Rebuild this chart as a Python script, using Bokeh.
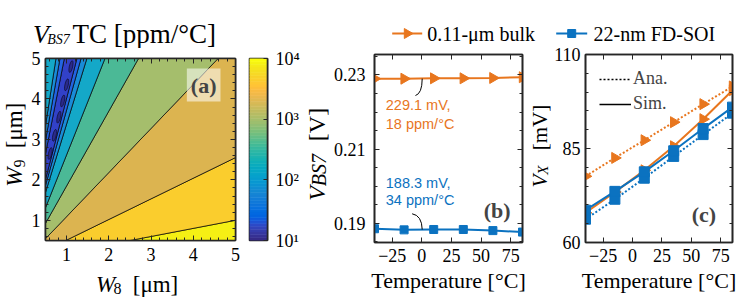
import numpy as np
from bokeh.plotting import figure
from bokeh.models import (Range1d, LinearAxis, FixedTicker, Label, Legend, LegendItem,
                          PrintfTickFormatter)
from bokeh.layouts import row, column
from bokeh.embed import file_html
from bokeh.resources import INLINE
from bokeh.core.properties import value

# ---------------- data ----------------
temps = [-40, -15, 10, 35, 60, 85]
vbs7_bulk = [0.2290, 0.2290, 0.2291, 0.2291, 0.2292, 0.2294]
vbs7_soi = [0.1885, 0.1882, 0.1883, 0.1883, 0.1880, 0.1876]
vx_bulk_ana = [77.6, 82.5, 87.2, 92.0, 96.8, 101.5]
vx_bulk_sim = [67.9, 73.4, 79.2, 85.6, 92.8, 100.5]
vx_soi_ana = [66.2, 71.5, 77.1, 82.9, 88.7, 94.4]
vx_soi_sim = [68.6, 73.6, 78.8, 84.4, 90.3, 96.0]

# panel (a): TC contours are wedges of constant W9/W8 ratio
contour_ratios = [0.2, 0.51, 1.09, 1.85, 2.62, 3.38, 3.73, 4.02, 5.29, 5.94, 6.69]
band_colors = ["#f5f014", "#facd2d", "#dcb450", "#a5be6c", "#4bb996", "#14a8c8",
               "#198cd7", "#2364e1", "#3241c8", "#2364e1", "#198cd7", "#14a8c8"]
blob_ratio = 4.35
blob_w9 = [4.8, 4.35, 3.95, 3.55, 3.1, 2.65]

cbar_ticks = [10, 100, 1000, 10000]
cbar_labels = ["10\u00b9", "10\u00b2", "10\u00b3", "10\u2074"]
w_ticks = [1, 2, 3, 4, 5]
temp_ticks = [-25, 0, 25, 50, 75]
vbs_ticks = [0.19, 0.21, 0.23]
vx_ticks = [60, 85, 110]
series_names = ["0.11-\u03bcm bulk", "22-nm FD-SOI"]

# ---------------- style ----------------
SERIF = "Liberation Serif"
SANS = "Liberation Sans"
ORANGE = "#e8761e"
BLUE = "#0b72c0"
AX = "#262626"
A90 = np.pi / 2
RIGHT = -np.pi / 2

PARULA = [
 (0.2081,0.1663,0.5292),(0.2116,0.1898,0.5777),(0.2123,0.2138,0.6270),(0.2081,0.2386,0.6771),
 (0.1959,0.2645,0.7279),(0.1707,0.2919,0.7792),(0.1253,0.3242,0.8303),(0.0591,0.3598,0.8683),
 (0.0117,0.3875,0.8820),(0.0060,0.4086,0.8828),(0.0165,0.4266,0.8786),(0.0329,0.4430,0.8720),
 (0.0498,0.4586,0.8641),(0.0629,0.4737,0.8554),(0.0723,0.4887,0.8467),(0.0779,0.5040,0.8384),
 (0.0793,0.5200,0.8312),(0.0749,0.5375,0.8263),(0.0641,0.5570,0.8240),(0.0488,0.5772,0.8228),
 (0.0343,0.5966,0.8199),(0.0265,0.6137,0.8135),(0.0239,0.6287,0.8038),(0.0231,0.6418,0.7913),
 (0.0228,0.6535,0.7768),(0.0267,0.6642,0.7607),(0.0384,0.6743,0.7436),(0.0590,0.6838,0.7254),
 (0.0843,0.6928,0.7062),(0.1133,0.7015,0.6859),(0.1453,0.7098,0.6646),(0.1801,0.7177,0.6424),
 (0.2178,0.7250,0.6193),(0.2586,0.7317,0.5954),(0.3022,0.7376,0.5712),(0.3482,0.7424,0.5473),
 (0.3953,0.7459,0.5244),(0.4420,0.7481,0.5033),(0.4871,0.7491,0.4840),(0.5300,0.7491,0.4661),
 (0.5709,0.7485,0.4494),(0.6099,0.7473,0.4337),(0.6473,0.7456,0.4188),(0.6834,0.7435,0.4044),
 (0.7184,0.7411,0.3905),(0.7525,0.7384,0.3768),(0.7858,0.7356,0.3633),(0.8185,0.7327,0.3498),
 (0.8507,0.7299,0.3360),(0.8824,0.7274,0.3217),(0.9139,0.7258,0.3063),(0.9450,0.7261,0.2886),
 (0.9739,0.7314,0.2666),(0.9938,0.7455,0.2403),(0.9990,0.7653,0.2164),(0.9955,0.7861,0.1967),
 (0.9880,0.8066,0.1794),(0.9789,0.8271,0.1633),(0.9697,0.8481,0.1475),(0.9626,0.8705,0.1309),
 (0.9589,0.8949,0.1132),(0.9598,0.9218,0.0948),(0.9661,0.9514,0.0755),(0.9763,0.9831,0.0538)]
parula = ["#%02x%02x%02x" % tuple(int(round(c * 255)) for c in rgb) for rgb in PARULA]


def no_align(f):
    try:
        f.frame_align = False
    except Exception:
        pass
    return f


def base_fig(w, h, xr, yr, bl, br, bt, bb, **kw):
    f = figure(width=w, height=h, x_range=Range1d(*xr), y_range=Range1d(*yr),
               output_backend="svg", toolbar_location=None,
               min_border_left=bl, min_border_right=br, min_border_top=bt, min_border_bottom=bb, **kw)
    f.grid.visible = False
    f.outline_line_color = AX
    f.outline_line_width = 1.6
    f.background_fill_color = "white"
    f.border_fill_color = "white"
    return no_align(f)


def blank(w, h):
    s = figure(width=w, height=h, x_range=Range1d(0, w), y_range=Range1d(0, h),
               output_backend="svg", toolbar_location=None, x_axis_location=None,
               y_axis_location=None, min_border=0)
    s.grid.visible = False
    s.outline_line_color = None
    s.background_fill_color = "white"
    s.border_fill_color = "white"
    return no_align(s)


def put(s, text, x, y, size, style="normal", angle=0.0, align="center"):
    s.text(x=[x], y=[y], text=[text], angle=angle, text_font=value(SERIF),
           text_font_size=f"{size}px", text_font_style=style, text_align=align,
           text_baseline="middle", text_color="black")


def style_axis(ax, ticker, show_labels=True, standoff=5):
    ax.ticker = ticker
    ax.axis_line_color = AX
    ax.axis_line_width = 1.6
    ax.major_tick_line_color = AX
    ax.minor_tick_line_color = AX
    ax.major_tick_in = 5
    ax.major_tick_out = 0
    ax.minor_tick_in = 3
    ax.minor_tick_out = 0
    ax.major_label_text_font = SERIF
    if show_labels:
        ax.major_label_text_color = "black"
        ax.major_label_text_font_size = "18px"
        ax.major_label_standoff = standoff
    else:
        ax.major_label_text_color = None
        ax.major_label_text_font_size = "1px"
        ax.major_label_standoff = 0


def mirror(f, xticker, yticker):
    top = LinearAxis()
    style_axis(top, xticker, show_labels=False)
    f.add_layout(top, "above")
    rt = LinearAxis()
    style_axis(rt, yticker, show_labels=False)
    f.add_layout(rt, "right")


def temp_label(ax):
    ax.axis_label = "Temperature [\u00b0C]"
    ax.axis_label_text_font = SERIF
    ax.axis_label_text_font_size = "22px"
    ax.axis_label_text_font_style = "normal"
    ax.axis_label_text_color = "black"
    ax.axis_label_standoff = 3


def clip_half(poly, a, b):
    out = []
    n = len(poly)
    for i in range(n):
        p, q = poly[i], poly[(i + 1) % n]
        fp = a * p[0] + b * p[1]
        fq = a * q[0] + b * q[1]
        if fp >= 0:
            out.append(p)
        if (fp >= 0) != (fq >= 0):
            t = fp / (fp - fq)
            out.append((p[0] + t * (q[0] - p[0]), p[1] + t * (q[1] - p[1])))
    return out


# ---------------- panel (a) ----------------
fa = base_fig(212, 220, (0.5, 5), (0.5, 5), 16, 5, 10, 28)
box = [(0.5, 0.5), (5.0, 0.5), (5.0, 5.0), (0.5, 5.0)]
edges = [None] + contour_ratios + [None]
xs, ys = [], []
for i in range(len(edges) - 1):
    poly = box
    lo, hi = edges[i], edges[i + 1]
    if lo is not None:
        poly = clip_half(poly, -lo, 1.0)
    if hi is not None:
        poly = clip_half(poly, hi, -1.0)
    xs.append([p[0] for p in poly])
    ys.append([p[1] for p in poly])
fa.patches(xs, ys, fill_color=band_colors, line_color="black", line_width=0.7)
fa.ellipse(x=[w / blob_ratio for w in blob_w9], y=blob_w9, width=0.08, height=0.3, angle=-0.22,
           fill_color="#2b2a8a", line_color="black", line_width=0.5)

wt = FixedTicker(ticks=w_ticks, minor_ticks=[round(0.6 + 0.2 * k, 2) for k in range(23)])
style_axis(fa.below[0], wt, standoff=7)
style_axis(fa.left[0], wt, standoff=5)
mirror(fa, wt, wt)
fa.add_layout(Label(x=4.246, y=4.343, text="(a)", text_font=SERIF, text_font_size="22px",
                    text_font_style="bold", text_align="center", text_baseline="middle",
                    background_fill_color="white", background_fill_alpha=0.55, padding=4))

# colour bar: its own log-scaled axis
fcb = base_fig(62, 299, (0, 1), (10, 1e4), 9, 33, 58, 59, y_axis_type="log",
               y_axis_location="right", x_axis_location=None)
cb_edges = [10 ** (1 + 3 * k / len(parula)) for k in range(len(parula) + 1)]
fcb.quad(left=0, right=1, bottom=cb_edges[:-1], top=cb_edges[1:], fill_color=parula,
         line_color=parula, line_width=0.6)
cax = fcb.right[0]
style_axis(cax, FixedTicker(ticks=cbar_ticks, minor_ticks=[]), standoff=8)
cax.major_tick_in = 4
cax.major_label_overrides = {t: l for t, l in zip(cbar_ticks, cbar_labels)}

# title  V_BS7 TC [ppm/°C]
ft = blank(212, 48)
put(ft, "V", 12.5, 14.5, 26, "italic")
put(ft, "BS7", 30, 9, 14, "italic")
put(ft, "TC [ppm/\u00b0C]", 44, 15, 27, align="left")

# x label  W8 [μm]
fxa = blank(212, 31)
put(fxa, "W", 77, 15, 23, "italic")
put(fxa, "8", 89, 11, 16)
put(fxa, "[\u03bcm]", 127, 15, 23)

# y label  W9 [μm]
fya = blank(28, 299)
put(fya, "W", 14, 122.3, 23, "italic", angle=A90)
put(fya, "9", 18.5, 136, 16, angle=A90)
put(fya, "[\u03bcm]", 14, 174, 23, angle=A90)

# ---------------- panel (b) ----------------
fb = base_fig(197, 255, (-40, 85), (0.18479, 0.23553), 44, 5, 10, 57)
fb.line(temps, vbs7_bulk, color=ORANGE, line_width=2)
fb.scatter(temps, vbs7_bulk, marker="triangle", angle=RIGHT, size=11, color=ORANGE)
fb.line(temps, vbs7_soi, color=BLUE, line_width=2)
fb.scatter(temps, vbs7_soi, marker="square", size=8, color=BLUE)

tt = FixedTicker(ticks=temp_ticks)
vt = FixedTicker(ticks=vbs_ticks, minor_ticks=[0.185, 0.195, 0.2, 0.205, 0.215, 0.22, 0.225, 0.235])
style_axis(fb.below[0], tt, standoff=6)
style_axis(fb.left[0], vt, standoff=9)
fb.left[0].formatter = PrintfTickFormatter(format="%.2f")
temp_label(fb.below[0])
mirror(fb, tt, vt)

fb.text(x=[-30.5, -30.5], y=[0.22177, 0.21664], text=["229.1 mV,", "18 ppm/\u00b0C"],
        text_font=value(SANS), text_font_size="14.5px", text_color=ORANGE,
        text_align="left", text_baseline="middle")
fb.text(x=[-30.5, -30.5], y=[0.20098, 0.19613], text=["188.3 mV,", "34 ppm/\u00b0C"],
        text_font=value(SANS), text_font_size="14.5px", text_color=BLUE,
        text_align="left", text_baseline="middle")
fb.quadratic(x0=[-5.4, -8.2], y0=[0.22445, 0.19254], x1=[0.3, 0.3], y1=[0.2290, 0.1883],
             cx=[0.2, 0.0], cy=[0.2250, 0.19208], line_color="black", line_width=1)
fb.add_layout(Label(x=63.6, y=0.19343, text="(b)", text_font=SERIF, text_font_size="22px",
                    text_font_style="bold", text_align="center", text_baseline="middle"))

fyb = blank(28, 255)
put(fyb, "V", 14, 106, 24, "italic", angle=A90)
put(fyb, "BS7", 16.5, 129.4, 20, "italic", angle=A90)
put(fyb, "[V]", 14, 175, 24, angle=A90)

# ---------------- panel (c) ----------------
fc = base_fig(196, 255, (-40, 85), (60, 110), 32, 15, 10, 57)
fc.line(temps, vx_bulk_ana, color=ORANGE, line_width=2, line_dash="2 2")
fc.scatter(temps, vx_bulk_ana, marker="triangle", angle=RIGHT, size=11, color=ORANGE)
fc.line(temps, vx_bulk_sim, color=ORANGE, line_width=2)
fc.scatter(temps, vx_bulk_sim, marker="triangle", angle=RIGHT, size=11, color=ORANGE)
fc.line(temps, vx_soi_ana, color=BLUE, line_width=2, line_dash="2 2")
fc.scatter(temps, vx_soi_ana, marker="square", size=10, color=BLUE)
fc.line(temps, vx_soi_sim, color=BLUE, line_width=2)
fc.scatter(temps, vx_soi_sim, marker="square", size=10, color=BLUE)

xt = FixedTicker(ticks=vx_ticks, minor_ticks=[65, 70, 75, 80, 90, 95, 100, 105])
style_axis(fc.below[0], tt, standoff=6)
style_axis(fc.left[0], xt, standoff=5)
temp_label(fc.below[0])
mirror(fc, tt, xt)

# legend keys (drawn off-range so only the legend shows them)
ra = fc.line([-100, -90], [0, 0], color="black", line_width=1.5, line_dash="2 2")
rs = fc.line([-100, -90], [0, 0], color="black", line_width=1.5)
lc = Legend(items=[LegendItem(label="Ana.", renderers=[ra]), LegendItem(label="Sim.", renderers=[rs])],
            location="top_left", margin=14, padding=0, spacing=4, glyph_width=32, glyph_height=20,
            label_height=20, label_standoff=2, label_text_font=SERIF, label_text_font_size="18px",
            border_line_color=None, background_fill_alpha=0)
fc.add_layout(lc, "center")
fc.add_layout(Label(x=60.7, y=67.4, text="(c)", text_font=SERIF, text_font_size="22px",
                    text_font_style="bold", text_align="center", text_baseline="middle"))

fyc = blank(24, 255)
put(fyc, "V", 12, 118.3, 21, "italic", angle=A90)
put(fyc, "X", 15.5, 129.3, 15, "italic", angle=A90)
put(fyc, "[mV]", 12, 172, 21, angle=A90)

# ---------------- shared legend (keys drawn as glyphs: triangles point right) ----------------
fl = blank(445, 44)
key_y = 11
fl.line([89.7, 119.7], [key_y, key_y], color=ORANGE, line_width=2)
fl.scatter([104.7], [key_y], marker="triangle", angle=RIGHT, size=10, color=ORANGE)
fl.line([253.7, 284.7], [key_y, key_y], color=BLUE, line_width=2)
fl.scatter([269.2], [key_y], marker="square", size=8, color=BLUE)
fl.text(x=[124.7, 291], y=[key_y, key_y], text=series_names, text_font=value(SERIF),
        text_font_size="20px", text_align="left", text_baseline="middle", text_color="black")

col_a = column(ft, fa, fxa)
col_bc = column(fl, row(fyb, fb, fyc, fc))
layout = row(fya, col_a, fcb, col_bc)
open("out.html", "w").write(file_html(layout, INLINE))
